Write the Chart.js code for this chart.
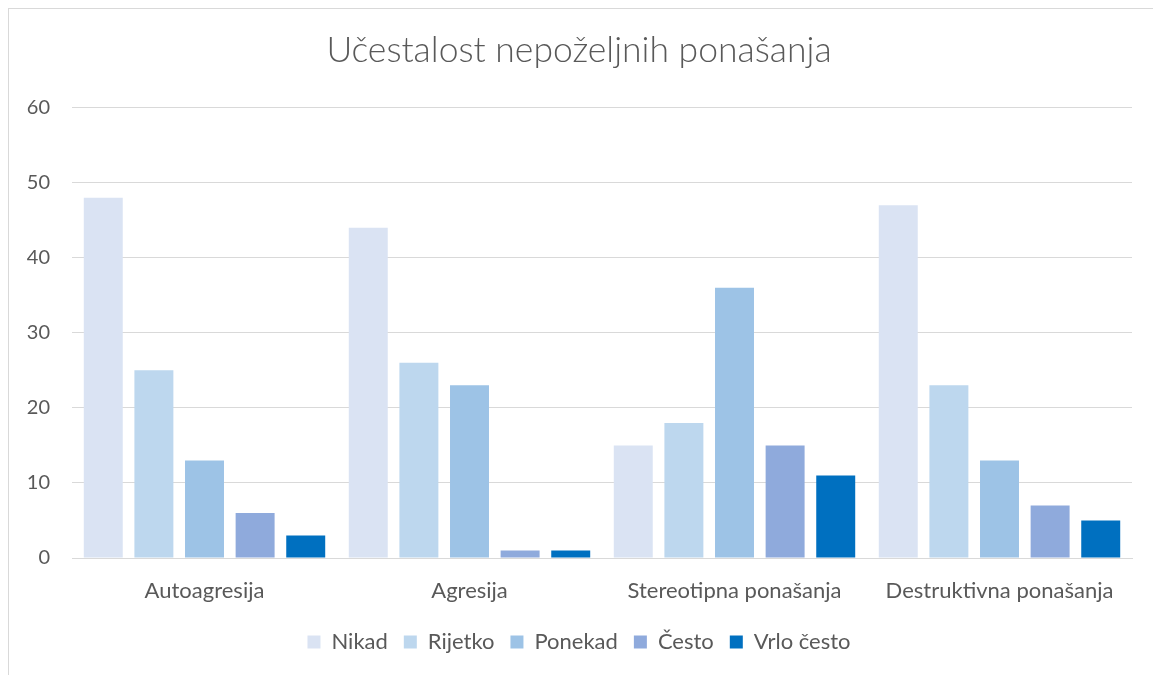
<!DOCTYPE html>
<html>
<head>
<meta charset="utf-8">
<script src="https://cdn.jsdelivr.net/npm/chart.js"></script>
<style>
  body { margin: 0; background: #fff; }
  #okvir { position: absolute; left: 8px; top: 8px; width: 1150px; height: 670px;
           border-top: 1px solid #d9d9d9; border-left: 1px solid #d9d9d9; }
  canvas { position: absolute; left: 0; top: 0; }
</style>
</head>
<body>
<div id="okvir"></div>
<canvas id="graf" width="1153" height="675"></canvas>
<script>
// --- podaci ---
const kategorije = ["Autoagresija", "Agresija", "Stereotipna ponašanja", "Destruktivna ponašanja"];
const nikad = [48, 44, 15, 47];
const rijetko = [25, 26, 18, 23];
const ponekad = [13, 23, 36, 13];
const cesto = [6, 1, 15, 7];
const vrloCesto = [3, 1, 11, 5];
const yTicks = [0, 10, 20, 30, 40, 50, 60];

const boja = "#595959";
const font = "Lato, 'Open Sans', sans-serif";

function serija(naziv, podaci, bg) {
    return { label: naziv, data: podaci, backgroundColor: bg, borderWidth: 0 };
}

new Chart(document.getElementById("graf"), {
    type: "bar",
    data: {
        labels: kategorije,
        datasets: [
            serija("Nikad", nikad, "#dae3f3"),
            serija("Rijetko", rijetko, "#bdd7ee"),
            serija("Ponekad", ponekad, "#9dc3e6"),
            serija("Često", cesto, "#8faadc"),
            serija("Vrlo često", vrloCesto, "#0070c0")
        ]
    },
    options: {
        responsive: false,
        animation: false,
        datasets: { bar: { categoryPercentage: 0.955, barPercentage: 0.77 } },
        layout: { padding: { left: 26, right: 21, top: 0, bottom: 12 } },
        plugins: {
            title: {
                display: true,
                text: "Učestalost nepoželjnih ponašanja",
                color: boja,
                font: { family: font, size: 35.5, weight: "300" },
                padding: { top: 29, bottom: 36 }
            },
            legend: {
                position: "bottom",
                labels: {
                    color: boja,
                    font: { family: font, size: 22 },
                    boxWidth: 13,
                    boxHeight: 13,
                    padding: 16
                }
            },
            tooltip: { enabled: false }
        },
        scales: {
            x: {
                grid: { display: false, drawTicks: false },
                border: { color: "#d9d9d9" },
                ticks: { color: boja, font: { family: font, size: 22 }, padding: 20 },
                afterFit: s => { s.height = 57; }
            },
            y: {
                min: 0,
                max: 60,
                afterBuildTicks: s => { s.ticks = yTicks.map(v => ({ value: v })); },
                grid: { color: "#d9d9d9", drawTicks: false },
                border: { display: false },
                ticks: { color: boja, font: { family: font, size: 20 }, padding: 22 },
                afterFit: s => { s.width = 46; }
            }
        }
    }
});
</script>
</body>
</html>
